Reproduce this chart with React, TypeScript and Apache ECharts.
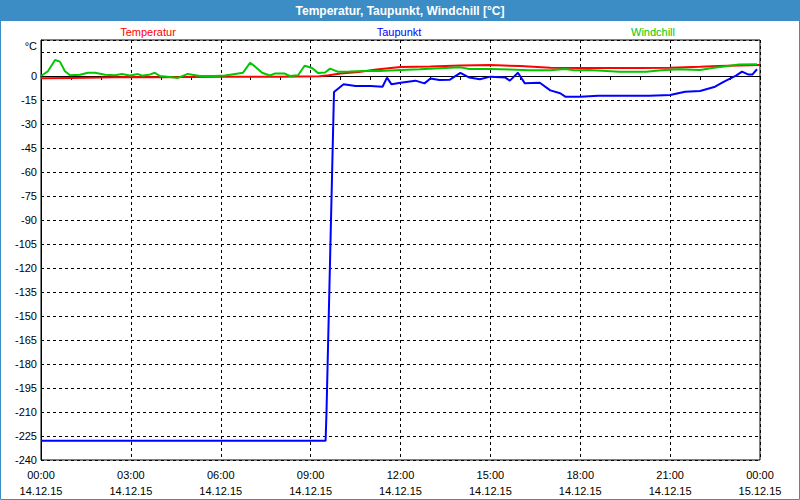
import React, { useEffect, useRef } from "react";
import * as echarts from "echarts";

const titleText = "Temperatur, Taupunkt, Windchill [°C]";
const seriesNames = ["Temperatur", "Taupunkt", "Windchill"];
const seriesColors = ["#ff0000", "#0000ff", "#00c800"];
const dateLabels = ["14.12.15", "14.12.15", "14.12.15", "14.12.15", "14.12.15", "14.12.15", "14.12.15", "14.12.15", "15.12.15"];

// hours since 14.12.15 00:00, value °C
const temperatur: [number, number][] = [
  [0, -1.4], [1, -1.2], [2, -1], [3, -0.6], [4, -0.8], [5, -0.6], [6, -0.5], [7, -0.4], [8, -0.4],
  [9.3, -0.2], [9.6, 0.5], [10, 1.5], [10.6, 2.5], [11.2, 4], [11.6, 4.8], [12, 5.6], [13, 6],
  [14, 6.5], [15, 6.8], [16, 6.2], [17, 5.2], [18, 5], [19, 5], [20, 5], [21, 5.2], [22, 5.8],
  [22.6, 6.2], [24, 6.8],
];

const taupunkt: [number, number][] = [
  [0, -228], [9.5, -228], [9.53, -210], [9.78, -10], [10.1, -5.2], [10.5, -6.2], [11, -6.3],
  [11.4, -6.7], [11.55, -1], [11.7, -5.2], [12, -4.2], [12.5, -2.9], [12.8, -4.6], [13, -1.5],
  [13.3, -2.5], [13.65, -2.3], [14, 2], [14.3, -1], [14.65, -2], [15, -0.4], [15.5, -1],
  [15.65, -2.9], [15.92, 2], [16.15, -4.6], [16.65, -4.2], [17, -9], [17.33, -10.8], [17.5, -12.9],
  [18, -13], [18.6, -12.3], [19.66, -12.3], [20.3, -12.3], [21, -11.9], [21.5, -9.8], [22, -9.4],
  [22.5, -6.7], [22.8, -3.5], [23.2, 0.2], [23.4, 2.7], [23.6, 1], [23.75, 1], [23.9, 4.2],
];

const windchill: [number, number][] = [
  [0, 0], [0.23, 3], [0.47, 10], [0.63, 9], [0.8, 3], [0.97, 0.5], [1.3, 0.8], [1.57, 2], [1.8, 2],
  [2.14, 0.8], [2.47, 0.5], [2.7, 1.2], [2.97, 0.3], [3.24, 1.2], [3.37, 0.2], [3.64, 1], [3.8, 2],
  [3.97, 0], [4.3, -0.6], [4.57, -1.2], [4.9, 1.3], [5.3, 0], [5.8, 0], [6.14, 0.3], [6.48, 1.3],
  [6.74, 2], [6.98, 8.3], [7.14, 6], [7.38, 2], [7.64, 0.3], [7.8, 1.5], [8.14, 1.5], [8.3, 0],
  [8.58, 0.5], [8.8, 6.4], [9.05, 5], [9.25, 1.8], [9.48, 2.2], [9.65, 4.6], [9.9, 2.7], [10.3, 2.8],
  [10.8, 3.2], [11.3, 3.2], [12, 3.8], [12.65, 4.2], [13.3, 4.8], [14, 5.4], [14.3, 4.4], [15, 4.4],
  [15.65, 4], [16.3, 3.6], [17, 3.6], [17.5, 4.4], [17.8, 3.6], [18.3, 3.8], [19.3, 2.6], [20.2, 2.6],
  [20.7, 3.6], [21.3, 4.2], [22, 3.8], [22.4, 5], [22.8, 6], [23.3, 7.2], [23.9, 7.4],
];

const FONT = "Liberation Sans";

export default function App() {
  const ref = useRef<HTMLDivElement>(null);
  useEffect(() => {
    if (!ref.current) return;
    const chart = echarts.init(ref.current, null, { renderer: "svg" });
    const data = [temperatur, taupunkt, windchill];
    chart.setOption({
      animation: false,
      backgroundColor: "#ffffff",
      grid: { left: 41, right: 40, top: 40, bottom: 40, show: true, borderColor: "#000", borderWidth: 1 },
      xAxis: {
        type: "value",
        min: 0,
        max: 24,
        interval: 3,
        axisLine: { show: true, lineStyle: { color: "#000", width: 1 } },
        axisTick: { show: true, length: 4, lineStyle: { color: "#000" } },
        minorTick: { show: true, splitNumber: 3, length: 4, lineStyle: { color: "#000" } },
        splitLine: { show: true, lineStyle: { color: "#000", type: [3, 3], width: 1 } },
        axisLabel: {
          color: "#000",
          fontFamily: FONT,
          fontSize: 11,
          lineHeight: 16,
          margin: 7,
          formatter: (v: number) => {
            const h = v % 24;
            const hh = (h < 10 ? "0" : "") + h + ":00";
            return hh + "\n" + dateLabels[Math.round(v / 3)];
          },
        },
      },
      yAxis: {
        type: "value",
        min: -240,
        max: 22.5,
        interval: 15,
        axisLine: { show: true, lineStyle: { color: "#000", width: 1 } },
        axisTick: { show: false },
        splitLine: { show: true, lineStyle: { color: "#000", type: [3, 3], width: 1 } },
        axisLabel: {
          color: "#000",
          fontFamily: FONT,
          fontSize: 11,
          margin: 4,
          showMaxLabel: false,
          formatter: (v: number) => (v === 15 ? "{u|°C}" : String(v)),
          rich: { u: { fontFamily: FONT, fontSize: 11, color: "#000", padding: [0, 0, 12, 0] } },
        },
      },
      graphic: [
        { type: "rect", shape: { x: 0.5, y: 0.5, width: 799, height: 499 }, style: { fill: "none", stroke: "#3c8dc5", lineWidth: 1 }, z: 10 },
        { type: "rect", shape: { x: 0, y: 0, width: 800, height: 21 }, style: { fill: "#3c8dc5" }, z: 10 },
        { type: "text", x: 400, y: 11, style: { text: titleText, fill: "#fff", font: `bold 12px ${FONT}`, align: "center", verticalAlign: "middle" }, z: 11 },
        { type: "text", x: 148, y: 32, style: { text: seriesNames[0], fill: seriesColors[0], font: `11px ${FONT}`, align: "center", verticalAlign: "middle" } },
        { type: "text", x: 399, y: 32, style: { text: seriesNames[1], fill: seriesColors[1], font: `11px ${FONT}`, align: "center", verticalAlign: "middle" } },
        { type: "text", x: 653, y: 32, style: { text: seriesNames[2], fill: seriesColors[2], font: `11px ${FONT}`, align: "center", verticalAlign: "middle" } },
      ],
      series: seriesNames.map((name, i) => ({
        name,
        type: "line",
        data: data[i],
        showSymbol: false,
        symbol: "none",
        lineStyle: { color: seriesColors[i], width: 2 },
        itemStyle: { color: seriesColors[i] },
        z: i === 0 ? 3 : i === 2 ? 4 : 5,
      })),
    });
    return () => chart.dispose();
  }, []);
  return <div ref={ref} style={{ position: "fixed", left: 0, top: 0, width: 800, height: 500 }} />;
}
